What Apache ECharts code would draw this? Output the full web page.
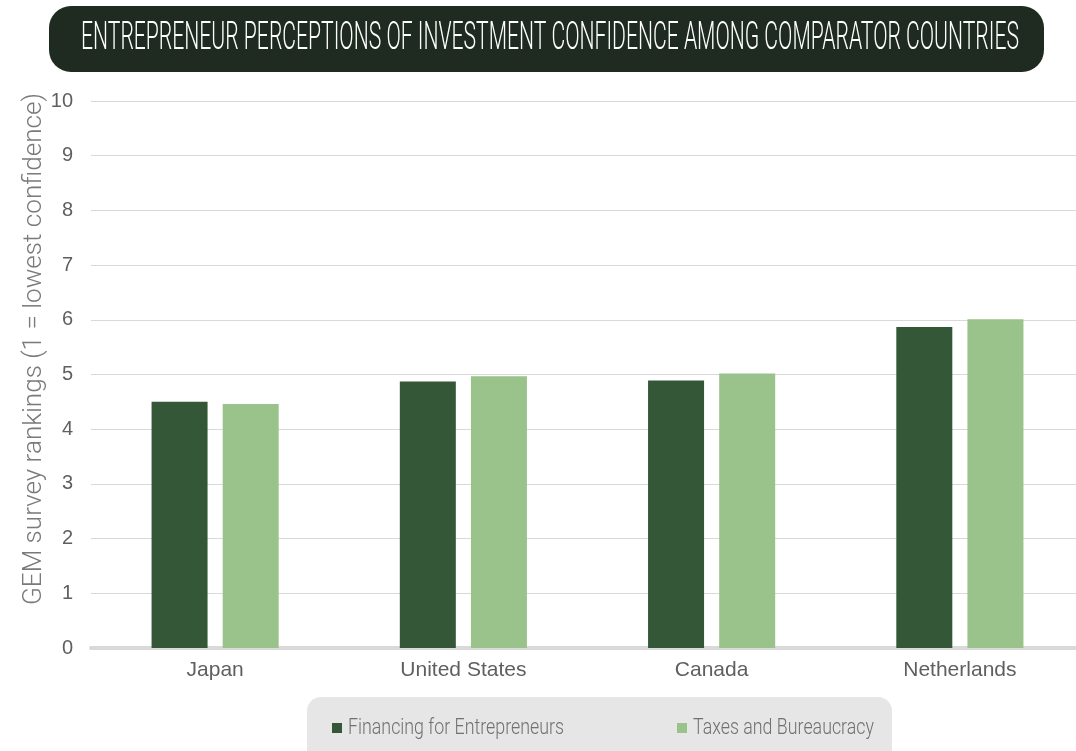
<!DOCTYPE html>
<html>
<head>
<meta charset="utf-8">
<script src="https://cdn.jsdelivr.net/npm/echarts@6/dist/echarts.min.js"></script>
<style>html,body{margin:0;padding:0;background:#fff}#chart{width:1076px;height:751px}</style>
</head>
<body>
<div id="chart"></div>
<script>
const titleText = 'ENTREPRENEUR PERCEPTIONS OF INVESTMENT CONFIDENCE AMONG COMPARATOR COUNTRIES';
const yAxisName = 'GEM survey rankings (1 = lowest confidence)';
const categories = ['Japan', 'United States', 'Canada', 'Netherlands'];
const seriesNames = ['Financing for Entrepreneurs', 'Taxes and Bureaucracy'];
const financing = [4.50, 4.87, 4.89, 5.87];
const taxes = [4.46, 4.97, 5.02, 6.01];
const palette = ['#335737', '#9ac28b'];

const THIN = 'Roboto, "Open Sans", Lato, sans-serif';
const ctx = document.createElement('canvas').getContext('2d');
function measure(txt, font) { ctx.font = font; return ctx.measureText(txt).width; }

const titleFont = '300 38px ' + THIN;
const titleScale = 938 / measure(titleText, titleFont);
const yNameFont = '300 26px ' + THIN;
const yNameScale = 512 / measure(yAxisName, yNameFont);
const legendFont = '300 22px ' + THIN;
const legendScale = 216 / measure(seriesNames[0], legendFont);

const legendItemX = [332, 677];
const legendGraphics = [
  { type: 'rect', shape: { x: 307, y: 697, width: 585, height: 80, r: 14 }, style: { fill: '#e6e6e6' } }
];
seriesNames.forEach((n, i) => {
  legendGraphics.push({ type: 'rect', shape: { x: legendItemX[i], y: 723, width: 10, height: 10 }, style: { fill: palette[i] } });
  legendGraphics.push({ type: 'text', x: legendItemX[i] + 16, y: 728, scaleX: legendScale,
    style: { text: n, font: legendFont, fill: '#707070', textAlign: 'left', textVerticalAlign: 'middle' } });
});

const chart = echarts.init(document.getElementById('chart'));
chart.setOption({
  animation: false,
  color: palette,
  grid: { left: 91, top: 101, bottom: 103, width: 993, containLabel: false, outerBoundsMode: 'none' },
  graphic: [
    { type: 'rect', shape: { x: 49, y: 6, width: 995, height: 66, r: 22 }, style: { fill: '#1f2b20' }, z: 0 },
    { type: 'text', x: 550, y: 39, scaleX: titleScale,
      style: { text: titleText, font: titleFont, fill: '#ffffff', textAlign: 'center', textVerticalAlign: 'middle' }, z: 1 },
    { type: 'text', x: 34, y: 349, rotation: Math.PI / 2, scaleX: yNameScale,
      style: { text: yAxisName, font: yNameFont, fill: '#7a7a7a', textAlign: 'center', textVerticalAlign: 'middle' } }
  ].concat(legendGraphics),
  xAxis: {
    type: 'category',
    data: categories,
    axisTick: { show: false },
    axisLine: { lineStyle: { color: '#d9d9d9', width: 4 } },
    axisLabel: { color: '#5f5f5f', fontSize: 21, fontFamily: '"Liberation Sans", Arial, sans-serif', margin: 12 }
  },
  yAxis: {
    type: 'value', min: 0, max: 10, interval: 1,
    axisLine: { show: false }, axisTick: { show: false },
    splitLine: { lineStyle: { color: '#d9d9d9', width: 1 } },
    axisLabel: { color: '#5f5f5f', fontSize: 20, fontFamily: '"Liberation Sans", Arial, sans-serif', margin: 18 }
  },
  series: [
    { name: seriesNames[0], type: 'bar', data: financing, barWidth: 56, barGap: '27%' },
    { name: seriesNames[1], type: 'bar', data: taxes, barWidth: 56, barGap: '27%' }
  ]
});
</script>
</body>
</html>
